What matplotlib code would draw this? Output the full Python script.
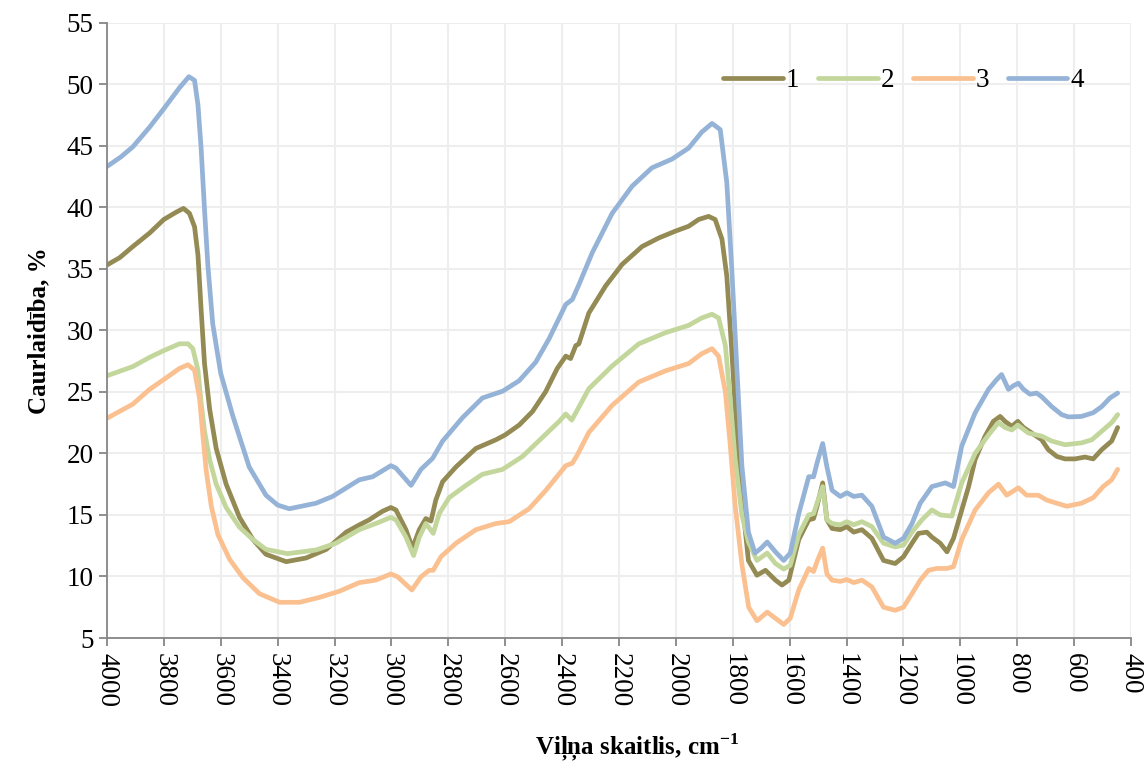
import matplotlib
matplotlib.use("Agg")
import matplotlib.pyplot as plt

# Data (wavenumber, cm-1 ; transmittance, %)
wn1 = [4000, 3955, 3909, 3850, 3800, 3756, 3731, 3710, 3692, 3680, 3669, 3657, 3639, 3616, 3581,
       3534, 3487, 3441, 3370, 3300, 3229, 3159, 3112, 3078, 3031, 3002, 2984, 2949, 2926, 2902,
       2879, 2861, 2844, 2820, 2773, 2703, 2633, 2600, 2551, 2504, 2458, 2417, 2387, 2370, 2352,
       2341, 2306, 2247, 2189, 2119, 2060, 2002, 1955, 1920, 1885, 1862, 1838, 1821, 1804, 1786,
       1768, 1745, 1715, 1685, 1650, 1627, 1603, 1568, 1533, 1516, 1504, 1484, 1469, 1451, 1422,
       1399, 1375, 1346, 1311, 1270, 1229, 1200, 1170, 1147, 1118, 1100, 1071, 1047, 1024, 995,
       971, 948, 913, 884, 860, 843, 819, 798, 778, 749, 714, 691, 661, 632, 597, 562, 533, 503,
       468, 447]
t1 = [35.3, 35.9, 36.8, 37.9, 39.0, 39.6, 39.9, 39.5, 38.4, 36.1, 31.7, 27.3, 23.6, 20.4, 17.5,
      14.8, 13.0, 11.8, 11.2, 11.5, 12.2, 13.6, 14.2, 14.6, 15.3, 15.6, 15.4, 13.8, 12.3, 13.8,
      14.7, 14.5, 16.2, 17.7, 18.9, 20.4, 21.1, 21.5, 22.3, 23.4, 25.0, 26.9, 27.9, 27.7, 28.75,
      28.9, 31.4, 33.6, 35.35, 36.8, 37.5, 38.05, 38.45, 39.0, 39.25, 39.0, 37.4, 34.4, 28.5, 21.7,
      16.35, 11.3, 10.1, 10.5, 9.7, 9.3, 9.7, 13.0, 14.6, 14.7, 15.7, 17.6, 14.6, 13.9, 13.8,
      14.05, 13.6, 13.8, 13.1, 11.3, 11.05, 11.6, 12.7, 13.5, 13.6, 13.2, 12.7, 12.0, 13.1, 15.4,
      17.3, 19.5, 21.4, 22.6, 23.0, 22.6, 22.2, 22.6, 22.1, 21.65, 21.1, 20.3, 19.75, 19.55, 19.55,
      19.7, 19.55, 20.3, 21.0, 22.1]

wn2 = [4000, 3909, 3850, 3800, 3745, 3715, 3698, 3680, 3669, 3657, 3639, 3616, 3581, 3534, 3487,
       3441, 3365, 3265, 3195, 3113, 3055, 3002, 2984, 2949, 2922, 2902, 2879, 2853, 2832, 2797,
       2738, 2680, 2609, 2539, 2469, 2410, 2387, 2366, 2347, 2306, 2224, 2130, 2037, 1955, 1909,
       1873, 1850, 1826, 1809, 1792, 1768, 1745, 1715, 1679, 1650, 1621, 1598, 1568, 1533, 1516,
       1504, 1484, 1469, 1451, 1422, 1399, 1375, 1346, 1311, 1270, 1229, 1200, 1170, 1135, 1100,
       1071, 1030, 995, 948, 901, 866, 843, 819, 798, 761, 714, 679, 632, 574, 538, 503, 468, 447]
t2 = [26.3, 27.05, 27.8, 28.35, 28.9, 28.9, 28.5, 26.75, 24.1, 21.8, 19.5, 17.5, 15.6, 14.0, 13.0,
      12.2, 11.85, 12.15, 12.7, 13.8, 14.3, 14.8, 14.6, 13.2, 11.7, 13.2, 14.3, 13.5, 15.1, 16.4,
      17.4, 18.3, 18.7, 19.75, 21.3, 22.6, 23.2, 22.7, 23.5, 25.25, 27.1, 28.9, 29.8, 30.4, 31.0,
      31.3, 31.0, 28.75, 24.4, 19.6, 15.0, 12.8, 11.3, 11.9, 11.05, 10.6, 10.9, 13.4, 15.0, 15.1,
      15.95, 17.3, 14.6, 14.3, 14.2, 14.45, 14.2, 14.45, 14.05, 12.7, 12.4, 12.55, 13.6, 14.6, 15.4,
      15.0, 14.9, 17.6, 20.0, 21.5, 22.5, 22.1, 21.9, 22.3, 21.65, 21.4, 21.0, 20.7, 20.85, 21.1,
      21.8, 22.5, 23.15]

wn3 = [4000, 3909, 3850, 3800, 3745, 3715, 3692, 3674, 3663, 3651, 3633, 3610, 3569, 3522, 3464,
       3393, 3323, 3253, 3183, 3113, 3055, 3002, 2978, 2928, 2896, 2867, 2853, 2826, 2773, 2703,
       2633, 2586, 2516, 2457, 2387, 2364, 2347, 2306, 2224, 2130, 2037, 1955, 1909, 1873, 1850,
       1826, 1809, 1792, 1768, 1744, 1715, 1679, 1650, 1621, 1598, 1568, 1533, 1516, 1504, 1484,
       1469, 1451, 1422, 1399, 1375, 1346, 1311, 1270, 1229, 1200, 1170, 1141, 1112, 1083, 1047,
       1024, 995, 948, 901, 866, 837, 796, 767, 726, 696, 661, 626, 574, 533, 498, 468, 447]
t3 = [22.85, 24.0, 25.2, 26.0, 26.9, 27.2, 26.75, 24.4, 21.5, 18.6, 15.7, 13.4, 11.4, 9.9, 8.6,
      7.9, 7.9, 8.3, 8.8, 9.5, 9.7, 10.2, 9.97, 8.9, 9.97, 10.5, 10.5, 11.6, 12.7, 13.8,
      14.3, 14.45, 15.5, 17.0, 19.0, 19.2, 19.85, 21.7, 23.9, 25.8, 26.7, 27.3, 28.1, 28.5, 27.9,
      25.0, 20.7, 15.85, 11.0, 7.5, 6.4, 7.1, 6.6, 6.1, 6.6, 8.9, 10.65, 10.4, 11.2, 12.3,
      10.2, 9.7, 9.6, 9.75, 9.5, 9.7, 9.15, 7.5, 7.25, 7.5, 8.6, 9.7, 10.5, 10.65, 10.65,
      10.8, 13.0, 15.4, 16.8, 17.5, 16.6, 17.2, 16.6, 16.6, 16.2, 15.95, 15.7, 15.95, 16.4, 17.3,
      17.85, 18.7]

wn4 = [4000, 3950, 3909, 3850, 3800, 3745, 3712, 3692, 3680, 3669, 3657, 3645, 3628, 3600, 3557,
       3500, 3441, 3400, 3359, 3265, 3207, 3113, 3066, 3002, 2984, 2931, 2896, 2855, 2820, 2750,
       2680, 2609, 2551, 2493, 2446, 2387, 2364, 2341, 2294, 2224, 2154, 2084, 2014, 1955, 1909,
       1873, 1844, 1821, 1804, 1786, 1768, 1745, 1722, 1700, 1679, 1650, 1621, 1598, 1568, 1533,
       1516, 1504, 1484, 1469, 1451, 1422, 1399, 1375, 1346, 1311, 1270, 1229, 1200, 1170, 1141,
       1100, 1053, 1024, 995, 948, 901, 872, 855, 831, 813, 796, 778, 755, 732, 714, 679, 644,
       620, 574, 533, 503, 474, 447]
t4 = [43.3, 44.1, 44.9, 46.5, 48.0, 49.7, 50.6, 50.3, 48.3, 44.8, 39.8, 35.2, 30.5, 26.5, 23.0,
      18.9, 16.6, 15.8, 15.5, 15.95, 16.5, 17.85, 18.1, 19.0, 18.8, 17.4, 18.7, 19.6, 21.0, 22.9,
      24.5, 25.05, 25.9, 27.4, 29.3, 32.1, 32.5, 33.7, 36.3, 39.5, 41.7, 43.2, 43.9, 44.8, 46.1,
      46.8, 46.3, 42.0, 35.2, 27.1, 19.0, 13.6, 11.9, 12.3, 12.8, 12.0, 11.3, 11.9, 15.1, 18.1,
      18.1, 19.2, 20.8, 18.9, 17.0, 16.5, 16.8, 16.5, 16.6, 15.7, 13.2, 12.7, 13.1, 14.3, 15.95,
      17.3, 17.6, 17.3, 20.6, 23.3, 25.2, 26.0, 26.4, 25.2, 25.5, 25.7, 25.2, 24.8, 24.9, 24.6,
      23.8, 23.15, 22.96, 23.0, 23.3, 23.8, 24.5, 24.9]

series = [("1", wn1, t1, "#948A54"),
          ("2", wn2, t2, "#C3D69B"),
          ("3", wn3, t3, "#FAC090"),
          ("4", wn4, t4, "#95B3D7")]

plt.rcParams['font.family'] = ['Liberation Serif', 'DejaVu Serif']
plt.rcParams['mathtext.fontset'] = 'custom'
plt.rcParams['mathtext.rm'] = 'Liberation Serif'
plt.rcParams['mathtext.bf'] = 'Liberation Serif:bold'

fig = plt.figure(figsize=(11.45, 7.71), dpi=100)
ax = fig.add_axes([0.0934, 0.1725, 0.8944, 0.7983])

for name, wn, t, col in series:
    ax.plot(wn, t, color=col, lw=3.4, label=name, solid_capstyle='round', solid_joinstyle='round')

ax.set_xlim(4000, 400)
ax.set_ylim(5, 55)
ax.set_xticks(range(4000, 399, -200))
ax.set_yticks(range(5, 56, 5))
ax.grid(True, color='#EEEEEE', lw=1.5)
ax.set_axisbelow(True)

for s in ['top', 'right']:
    ax.spines[s].set_visible(False)
for s in ['left', 'bottom']:
    ax.spines[s].set_color('#868686')
    ax.spines[s].set_linewidth(1.3)
ax.tick_params(axis='both', colors='#868686', length=6, width=1.3, labelcolor='black', labelsize=19.5)
ax.tick_params(axis='x', labelrotation=-90, pad=5)

ax.set_ylabel('Caurlaidība, %', fontsize=18, fontweight='bold', labelpad=12)
ax.set_xlabel(r'Viļņa skaitlis, cm$^{\mathbf{-1}}$', fontsize=18, fontweight='bold')
ax.xaxis.set_label_coords(0.518, -0.152)

ax.legend(loc='upper right', bbox_to_anchor=(0.9775, 0.965), ncol=4, frameon=False,
          fontsize=19.5, handlelength=2.2, handletextpad=0.1, columnspacing=0.7)

fig.savefig('out.png', dpi=100)
